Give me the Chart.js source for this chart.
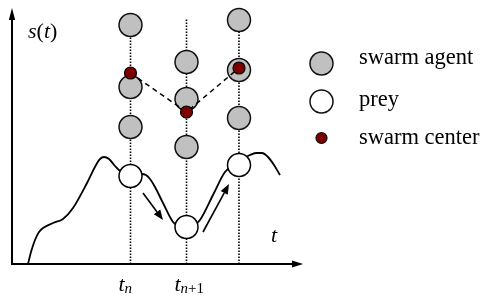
<!DOCTYPE html>
<html><head><meta charset="utf-8">
<script src="https://cdn.jsdelivr.net/npm/chart.js@4/dist/chart.umd.min.js"></script>
<style>html,body{margin:0;padding:0;background:#fff}canvas{display:block}</style>
</head><body>
<canvas id="c" width="481" height="300"></canvas>
<script>
// ---- data (t = time, s = fitness value s(t)) ----
const columnT   = [118.5, 174.5, 227];      // t_n, t_{n+1}, t_{n+2}
const columnTop = [239, 246, 244];          // top of dotted guide lines
const tickMain  = 't';
const tickSubs  = [['n'], ['n','+1']];       // italic part, upright part
const curveT = [16,19,23,27,31,41,51,61,75,84,88,92,97,103,108,119,129,134,138,143,151,161,168,174,181,188,201,213,227,238,244,250,256,262,268];
const curveS = [0,12,24,32,36,41,45,56,81,99,105,107,105,98,93,89,90,89,85,77,61,42,37,36,38,44,69,92,102,109,111,111,107,99,89];
const agentT = [118.5,118.5,118.5,174.5,174.5,174.5,227,227,227];
const agentS = [239,177,137,202,165,117,244,194,146];
const centerT = [118.5,174.5,227];
const centerS = [191,152,196];
const preyT = [118.5,174.5,227];
const preyS = [88,37,99];
const arrowFromT = [131,191], arrowFromS = [71,32];
const arrowToT   = [151,217], arrowToS   = [44,80];
const legendLabels = ['swarm agent','prey','swarm center'];
const axisLabelY = ['s','(','t',')'];
const axisLabelX = 't';

const pts = (xs, ys) => xs.map((x,i)=>({x, y: ys[i]}));
const datasets = [];
columnT.forEach((t,i)=>{
  datasets.push({data: pts([t,t],[0,columnTop[i]]), showLine:true, pointRadius:0,
    borderColor:'#000', borderWidth:1.6, borderDash:[1.5,1.5], order:10});
});
datasets.push({data: pts(curveT, curveS), showLine:true, pointRadius:0, borderColor:'#000',
  borderWidth:1.8, tension:0.4, cubicInterpolationMode:'monotone', order:9});
datasets.push({data: pts(preyT, preyS), pointRadius:11.5, pointBackgroundColor:'#fff',
  pointBorderColor:'#000', pointBorderWidth:1.5, showLine:false, order:5});
datasets.push({data: pts(agentT, agentS), pointRadius:11.5, pointBackgroundColor:'#c0c0c0',
  pointBorderColor:'#111', pointBorderWidth:1.5, showLine:false, order:4});
datasets.push({data: pts(centerT, centerS), showLine:true, pointRadius:0, borderColor:'#000',
  borderWidth:1.5, borderDash:[5,4], order:3});
datasets.push({data: pts(centerT, centerS), pointRadius:6, pointBackgroundColor:'#7d0000',
  pointBorderColor:'#000', pointBorderWidth:1.2, showLine:false, order:2});

function arrow(ctx,x1,y1,x2,y2,len,half,lw){
  const a=Math.atan2(y2-y1,x2-x1);
  const bx=x2-len*Math.cos(a), by=y2-len*Math.sin(a);
  ctx.lineWidth=lw; ctx.strokeStyle='#000'; ctx.fillStyle='#000';
  ctx.beginPath(); ctx.moveTo(x1,y1); ctx.lineTo(bx,by); ctx.stroke();
  ctx.beginPath(); ctx.moveTo(x2,y2);
  ctx.lineTo(bx+half*Math.sin(a), by-half*Math.cos(a));
  ctx.lineTo(bx-half*Math.sin(a), by+half*Math.cos(a));
  ctx.closePath(); ctx.fill();
}

const deco = {
  id:'deco',
  beforeDatasetsDraw(chart){
    const ctx=chart.ctx, xs=chart.scales.x, ys=chart.scales.y;
    const x0=xs.getPixelForValue(0), y0=ys.getPixelForValue(0);
    ctx.save();
    arrow(ctx, x0, y0+1, x0, ys.getPixelForValue(256), 12, 3.2, 2);
    arrow(ctx, x0-1, y0, xs.getPixelForValue(291), y0, 11, 3.5, 2);
    ctx.restore();
  },
  afterDatasetsDraw(chart){
    const ctx=chart.ctx, xs=chart.scales.x, ys=chart.scales.y;
    ctx.save();
    for(let i=0;i<arrowFromT.length;i++){
      arrow(ctx, xs.getPixelForValue(arrowFromT[i]), ys.getPixelForValue(arrowFromS[i]),
        xs.getPixelForValue(arrowToT[i]), ys.getPixelForValue(arrowToS[i]), 10, 4, 1.6);
    }
    ctx.fillStyle='#000'; ctx.textBaseline='alphabetic'; ctx.textAlign='left';
    const it='italic 22px "Liberation Serif"', up='22px "Liberation Serif"';
    // s(t)
    let x=28;
    axisLabelY.forEach((s,i)=>{ ctx.font = (i%2===0)?it:up; ctx.fillText(s,x,38); x+=ctx.measureText(s).width; });
    ctx.font=it; ctx.fillText(axisLabelX, 271, 242);
    // tick labels
    tickSubs.forEach((parts,i)=>{
      let px = xs.getPixelForValue(columnT[i]) - 12;
      ctx.font=it; ctx.fillText(tickMain, px, 291);
      px += ctx.measureText(tickMain).width;
      parts.forEach((p,j)=>{
        ctx.font = (j===0 ? 'italic ' : '') + '15px "Liberation Serif"';
        ctx.fillText(p, px, 293); px += ctx.measureText(p).width;
      });
    });
    // legend
    const lx=321.5, ly=[63.5,101.5,138];
    ctx.lineWidth=1.5; ctx.strokeStyle='#111';
    ctx.beginPath(); ctx.arc(lx,ly[0],11.5,0,Math.PI*2); ctx.fillStyle='#c0c0c0'; ctx.fill(); ctx.stroke();
    ctx.beginPath(); ctx.arc(lx,ly[1],11.5,0,Math.PI*2); ctx.fillStyle='#fff'; ctx.fill(); ctx.stroke();
    ctx.lineWidth=1.2;
    ctx.beginPath(); ctx.arc(lx,ly[2],5.5,0,Math.PI*2); ctx.fillStyle='#7d0000'; ctx.fill(); ctx.stroke();
    ctx.fillStyle='#000'; ctx.font='22.5px "Liberation Serif"';
    const lb=[64,106,144];
    legendLabels.forEach((t,i)=>ctx.fillText(t,359,lb[i]));
    ctx.restore();
  }
};

new Chart(document.getElementById('c'), {
  type:'scatter',
  data:{datasets},
  options:{
    responsive:false, animation:false, events:[],
    layout:{padding:0, autoPadding:false},
    plugins:{legend:{display:false}, tooltip:{enabled:false}},
    scales:{
      x:{type:'linear', min:-12, max:469, display:false},
      y:{type:'linear', min:-36, max:264, display:false}
    }
  },
  plugins:[deco]
});
</script>
</body></html>
